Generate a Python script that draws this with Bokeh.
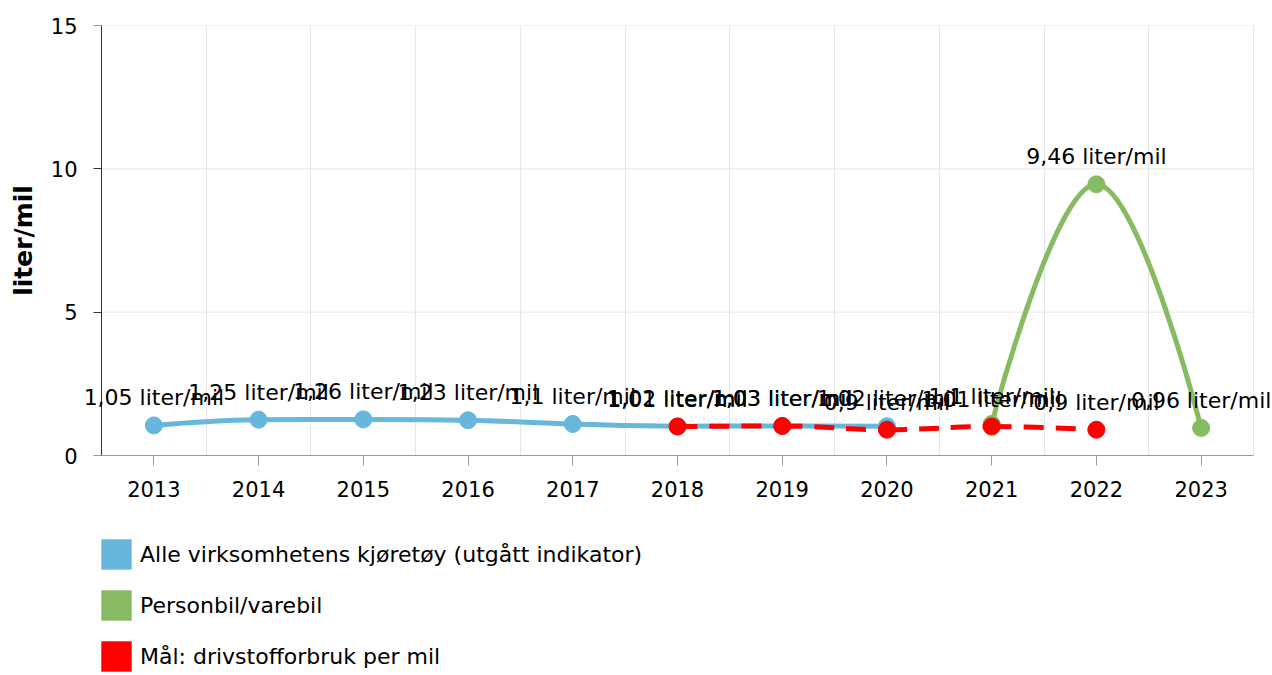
from bokeh.plotting import figure
from bokeh.models import (Range1d, FixedTicker, LabelSet, ColumnDataSource,
                          Legend, LegendItem, LinearAxis)
from bokeh.layouts import column
from bokeh.core.properties import value
from bokeh.embed import file_html
from bokeh.resources import INLINE

# ---- data ----
years = [2013, 2014, 2015, 2016, 2017, 2018, 2019, 2020, 2021, 2022, 2023]

blue_years = [2013, 2014, 2015, 2016, 2017, 2018, 2019, 2020]
blue_vals = [1.05, 1.25, 1.26, 1.23, 1.1, 1.02, 1.03, 1.02]

green_years = [2021, 2022, 2023]
green_vals = [1.1, 9.46, 0.96]

red_years = [2018, 2019, 2020, 2021, 2022]
red_vals = [1.01, 1.03, 0.9, 1.01, 0.9]

y_ticks = [0, 5, 10, 15]
unit = "liter/mil"
names = ["Alle virksomhetens kjøretøy (utgått indikator)",
         "Personbil/varebil",
         "Mål: drivstofforbruk per mil"]
colors = ["#67b7dc", "#86bb62", "#ff0000"]

FONT = "DejaVu Sans"

# ---- layout constants (pixels) ----
PLOT_W = 1152          # width of the plotting area
PAD_L, PAD_R = 23, 19  # extra room inside the frame for edge data labels
FRAME_LEFT = 78


def spline_segments(xs, ys, smoothing=1.5):
    """Highcharts-style spline control points (data space)."""
    n = len(xs)
    denom = smoothing + 1
    lc = [(x, y) for x, y in zip(xs, ys)]
    rc = [(x, y) for x, y in zip(xs, ys)]
    for i in range(1, n - 1):
        x, y = xs[i], ys[i]
        lx = (smoothing * x + xs[i - 1]) / denom
        ly = (smoothing * y + ys[i - 1]) / denom
        rx = (smoothing * x + xs[i + 1]) / denom
        ry = (smoothing * y + ys[i + 1]) / denom
        corr = ((ry - ly) * (rx - x)) / (rx - lx) + y - ry
        ly += corr
        ry += corr
        if ly > ys[i - 1] and ly > y:
            ly = max(ys[i - 1], y); ry = 2 * y - ly
        elif ly < ys[i - 1] and ly < y:
            ly = min(ys[i - 1], y); ry = 2 * y - ly
        if ry > ys[i + 1] and ry > y:
            ry = max(ys[i + 1], y); ly = 2 * y - ry
        elif ry < ys[i + 1] and ry < y:
            ry = min(ys[i + 1], y); ly = 2 * y - ry
        lc[i] = (lx, ly)
        rc[i] = (rx, ry)
    d = dict(x0=[], y0=[], x1=[], y1=[], cx0=[], cy0=[], cx1=[], cy1=[])
    for i in range(1, n):
        d["x0"].append(xs[i - 1]); d["y0"].append(ys[i - 1])
        d["x1"].append(xs[i]); d["y1"].append(ys[i])
        d["cx0"].append(rc[i - 1][0]); d["cy0"].append(rc[i - 1][1])
        d["cx1"].append(lc[i][0]); d["cy1"].append(lc[i][1])
    return d


def fmt(v):
    return f"{v:g}".replace(".", ",") + " " + unit


x_lo, x_hi = years[0] - 0.5, years[-1] + 0.5
k = (x_hi - x_lo) / PLOT_W

p = figure(width=FRAME_LEFT + PAD_L + PLOT_W + PAD_R,
           frame_width=PAD_L + PLOT_W + PAD_R, frame_height=430,
           min_border_left=FRAME_LEFT, min_border_top=25,
           min_border_right=0, min_border_bottom=80,
           x_range=Range1d(x_lo - PAD_L * k, x_hi + PAD_R * k),
           y_range=Range1d(y_ticks[0], y_ticks[-1]),
           y_axis_location=None,
           output_backend="svg", toolbar_location=None,
           background_fill_color="white", border_fill_color="white")
p.outline_line_color = None

# grids
p.xgrid.ticker = FixedTicker(ticks=[y - 0.5 for y in years] + [x_hi])
p.xgrid.grid_line_color = "#e6e6e6"
p.ygrid.visible = False
p.segment(x0=[x_lo] * (len(y_ticks) - 1), x1=[x_hi] * (len(y_ticks) - 1),
          y0=y_ticks[1:], y1=y_ticks[1:], line_color="#e6e6e6", line_width=1)

# x axis
p.xaxis.ticker = FixedTicker(ticks=years)
p.xaxis.bounds = (x_lo, x_hi)
p.xaxis.axis_line_color = "#999999"
p.xaxis.major_tick_line_color = "#999999"
p.xaxis.major_tick_out = 10
p.xaxis.major_tick_in = 0
p.xaxis.minor_tick_line_color = None
p.xaxis.major_label_standoff = 15
p.xaxis.major_label_text_font = FONT
p.xaxis.major_label_text_font_size = "21px"
p.xaxis.major_label_text_color = "#000000"

# y axis: line + ticks at the left edge of the plotting area
y_line = LinearAxis(ticker=FixedTicker(ticks=y_ticks), fixed_location=x_lo,
                    axis_line_color="#333333", major_tick_line_color="#333333",
                    major_tick_out=8, major_tick_in=0,
                    minor_tick_line_color=None, major_label_text_color=None)
p.add_layout(y_line, "left")

# y axis: tick labels + title
y_lab = LinearAxis(ticker=FixedTicker(ticks=y_ticks),
                   axis_line_color=None, major_tick_line_color=None,
                   major_tick_out=0, major_tick_in=0,
                   minor_tick_line_color=None, major_label_standoff=1,
                   major_label_text_font=FONT, major_label_text_font_size="21px",
                   major_label_text_color="#000000",
                   axis_label=unit, axis_label_text_font=FONT,
                   axis_label_text_font_style="bold",
                   axis_label_text_font_size="25px",
                   axis_label_text_color="#000000", axis_label_standoff=10)
p.add_layout(y_lab, "left")

series = [(blue_years, blue_vals, colors[0], "solid"),
          (green_years, green_vals, colors[1], "solid"),
          (red_years, red_vals, colors[2], "20 12")]

for xs, ys, c, dash in series:
    seg = spline_segments(xs, ys)
    p.bezier(x0="x0", y0="y0", x1="x1", y1="y1", cx0="cx0", cy0="cy0",
             cx1="cx1", cy1="cy1", source=ColumnDataSource(seg),
             line_color=c, line_width=5, line_dash=dash)
    p.scatter(xs, ys, size=17, marker="circle", fill_color=c, line_color=c)

for xs, ys, c, dash in series:
    src = ColumnDataSource(dict(x=xs, y=ys, t=[fmt(v) for v in ys]))
    p.add_layout(LabelSet(x="x", y="y", text="t", source=src, y_offset=15,
                          text_align="center", text_baseline="bottom",
                          text_font=value(FONT), text_font_size="22px",
                          text_color="#000000"))

# ---- legend in its own strip below the chart ----
LEG_H = 140
nan = float("nan")
lf = figure(width=p.width, height=LEG_H, min_border=0,
            x_range=Range1d(0, 1), y_range=Range1d(0, 1),
            output_backend="svg", toolbar_location=None,
            background_fill_color="white", border_fill_color="white")
lf.outline_line_color = None
lf.xaxis.visible = False
lf.yaxis.visible = False
lf.xgrid.visible = False
lf.ygrid.visible = False
items = []
for name, c in zip(names, colors):
    r = lf.quad(left=[nan], right=[nan], top=[nan], bottom=[nan],
                fill_color=c, line_color=None)
    items.append(LegendItem(label=name, renderers=[r]))
legend = Legend(items=items, location=(PAD_L - 4, 0),
                orientation="vertical",
                glyph_width=38, glyph_height=38, label_standoff=5,
                spacing=13, padding=0, margin=0,
                label_text_font=FONT, label_text_font_size="22px",
                label_text_color="#000000", border_line_color=None,
                background_fill_alpha=0, label_height=38)
lf.add_layout(legend, "center")

open("out.html", "w").write(file_html(column(p, lf), INLINE))
